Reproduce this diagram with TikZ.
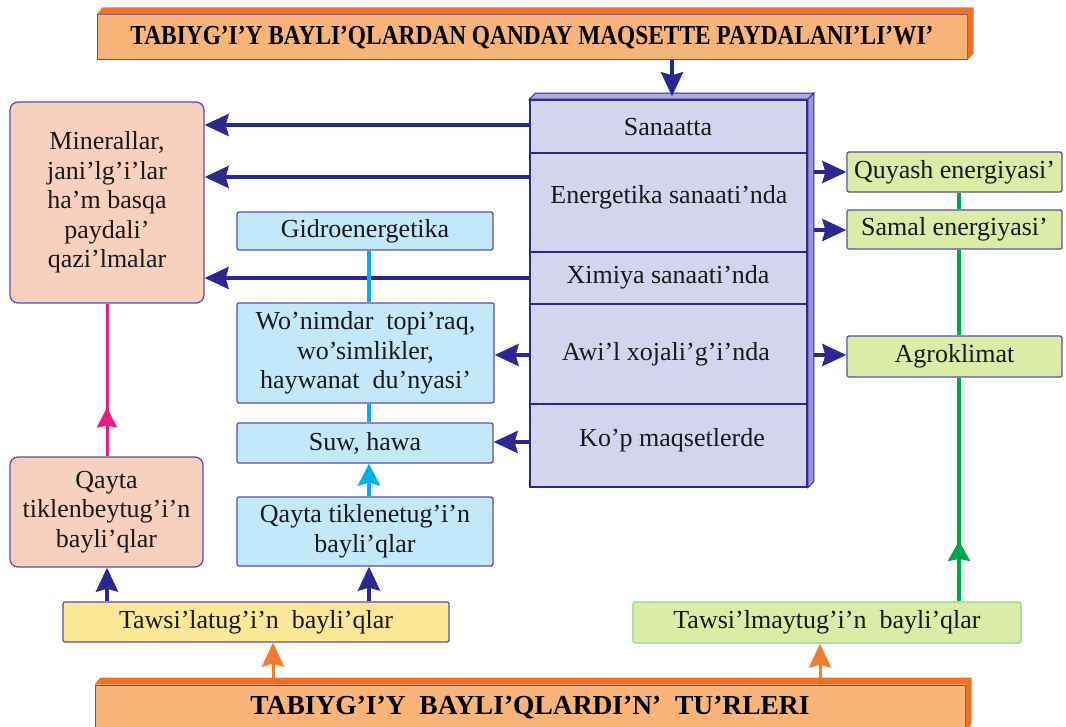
\documentclass[tikz,border=0pt]{standalone}
\usepackage{fontspec}
\setmainfont{Liberation Serif}
\usepackage{graphicx}
\usetikzlibrary{arrows.meta,decorations.markings,calc}
\definecolor{cNavy}{RGB}{45,40,145}
\definecolor{cBorder}{RGB}{95,75,170}
\definecolor{cPink}{RGB}{230,30,130}
\definecolor{cCyan}{RGB}{0,175,235}
\definecolor{cGreen}{RGB}{0,165,80}
\definecolor{cOrange}{RGB}{240,125,45}
\definecolor{cOrangeDark}{RGB}{238,115,40}
\definecolor{cOrangeFill}{RGB}{249,180,122}
\definecolor{cLav}{RGB}{212,212,238}
\definecolor{cLavTop}{RGB}{175,170,220}
\definecolor{cLavSide}{RGB}{155,150,212}
\definecolor{cPeach}{RGB}{248,208,190}
\definecolor{cBlue}{RGB}{195,232,250}
\definecolor{cYellow}{RGB}{252,232,150}
\definecolor{cLime}{RGB}{218,236,165}
\definecolor{cLimeBorder}{RGB}{150,210,140}
\begin{document}
\begin{tikzpicture}[x=1pt,y=-1pt,
  box/.style={draw=cBorder, line width=1.3pt, inner sep=0pt, align=center,
    font=\fontsize{26}{29.5}\selectfont, text=black!90, rounded corners=2pt},
  peach/.style={box, fill=cPeach, rounded corners=8pt},
  bluebox/.style={box, fill=cBlue},
  yellowbox/.style={box, fill=cYellow},
  limebox/.style={box, fill=cLime},
  intext/.style={inner sep=0pt, font=\fontsize{26}{29.5}\selectfont, text=black!90},
  na/.style={draw=cNavy, line width=4pt, -{Stealth[length=24pt,width=22pt,inset=3pt]}},
  oa/.style={draw=cOrange, line width=3pt, -{Stealth[length=24pt,width=22pt,inset=3pt]}},
  ca/.style={draw=cCyan, line width=4pt, -{Stealth[length=22pt,width=22pt,inset=3pt]}},
  cl/.style={draw=cCyan, line width=4pt},
  gl/.style={draw=cGreen, line width=4pt},
]
\useasboundingbox[fill=white] (0,0) rectangle (1066,727);

% header
\node[draw=cBorder, line width=1pt, fill=cOrangeFill, minimum width=870pt, minimum height=45pt, inner sep=0pt,
  font=\fontsize{27.5}{30}\selectfont\bfseries] (hdr) at (532,37.5)
  {\scalebox{0.85}[1]{TABIYG’I’Y BAYLI’QLARDAN QANDAY MAQSETTE PAYDALANI’LI’WI’}};
\fill[cOrangeDark] (hdr.north west) -- ++(6,-7) -- ($(hdr.north east)+(6,-7)$) -- (hdr.north east) -- cycle;
\fill[cOrangeDark] (hdr.north east) -- ++(6,-7) -- ($(hdr.south east)+(6,-7)$) -- (hdr.south east) -- cycle;

% central box
\node[draw=cNavy, line width=1.5pt, fill=cLav, minimum width=277pt, minimum height=387pt, inner sep=0pt] (cen) at (668.5,293.5) {};
\filldraw[fill=cLavTop, draw=cNavy, line width=1pt] (cen.north west) -- ++(6,-6) -- ($(cen.north east)+(6,-6)$) -- (cen.north east) -- cycle;
\filldraw[fill=cLavSide, draw=cNavy, line width=1pt] (cen.north east) -- ++(6,-6) -- ($(cen.south east)+(6,-6)$) -- (cen.south east) -- cycle;
\coordinate (l1) at (0,153);
\coordinate (l2) at (0,252);
\coordinate (l3) at (0,304);
\coordinate (l4) at (0,404);
\foreach \l in {l1,l2,l3,l4}{\draw[cNavy, line width=1.2pt] (cen.west |- \l) -- (cen.east |- \l);}
\node[intext] (s1) at (668,127) {Sanaatta};
\node[intext] (s2) at (669,197) {Energetika sanaati’nda};
\node[intext] (s3) at (668,277) {Ximiya sanaati’nda};
\node[intext] (s4) at (666,354) {Awi’l xojali’g’i’nda};
\node[intext] (s5) at (672,440) {Ko’p maqsetlerde};

% left boxes
\node[peach, minimum width=194pt, minimum height=201pt] (mineral) at (107,202.5)
  {Minerallar,\\ jani’lg’i’lar\\ ha’m basqa\\ paydali’\\ qazi’lmalar};
\node[peach, minimum width=193pt, minimum height=110pt] (qayta1) at (106.5,512)
  {Qayta\\ tiklenbeytug’i’n\\ bayli’qlar};
\node[bluebox, minimum width=256pt, minimum height=38pt] (gidro) at (365,231) {Gidroenergetika};
\node[bluebox, minimum width=257pt, minimum height=100pt] (wonim) at (365.5,353)
  {Wo’nimdar~~topi’raq,\\ wo’simlikler,\\ haywanat~~du’nyasi’};
\node[bluebox, minimum width=256pt, minimum height=40pt] (suw) at (365,443) {Suw, hawa};
\node[bluebox, minimum width=256pt, minimum height=69pt] (qayta2) at (365,531.5)
  {Qayta tiklenetug’i’n\\ bayli’qlar};
\node[yellowbox, minimum width=386pt, minimum height=40pt] (taws1) at (256,622) {Tawsi’latug’i’n~~bayli’qlar};
\node[limebox, draw=cLimeBorder, minimum width=388pt, minimum height=41pt] (taws2) at (827,622.5) {Tawsi’lmaytug’i’n~~bayli’qlar};

% right boxes
\node[limebox, minimum width=215pt, minimum height=40pt] (quyash) at (954.5,172) {Quyash energiyasi’};
\node[limebox, minimum width=215pt, minimum height=39pt] (samal) at (954.5,229.5) {Samal energiyasi’};
\node[limebox, minimum width=215pt, minimum height=41pt] (agro) at (954.5,356.5) {Agroklimat};

% bottom box
\node[draw=cBorder, line width=1pt, fill=cOrangeFill, minimum width=870pt, minimum height=46pt, inner sep=0pt,
  font=\fontsize{27.5}{30}\selectfont\bfseries] (bot) at (530,708)
  {TABIYG’I’Y~~BAYLI’QLARDI’N’~~TU’RLERI};
\fill[cOrangeDark] (bot.north west) -- ++(6,-7) -- ($(bot.north east)+(6,-7)$) -- (bot.north east) -- cycle;
\fill[cOrangeDark] (bot.north east) -- ++(6,-7) -- ($(bot.south east)+(6,-7)$) -- (bot.south east) -- cycle;

% coordinates for connector positions
\coordinate (cx) at (672,0);
\coordinate (y125) at (0,125);
\coordinate (y177) at (0,177);
\coordinate (y278) at (0,278);
\coordinate (y355) at (0,355);
\coordinate (y442) at (0,442);
\coordinate (y172) at (0,172);
\coordinate (y230) at (0,230);
\coordinate (gx) at (959,0);
\coordinate (bx1) at (107,0);
\coordinate (bx2) at (369,0);
\coordinate (ox1) at (273,0);
\coordinate (ox2) at (820,0);

% navy arrows
\draw[na] (hdr.south -| cx) -- ($(cen.north -| cx)+(0,-3)$);
\draw[na] (cen.west |- y125) -- (mineral.east |- y125);
\draw[na] (cen.west |- y177) -- (mineral.east |- y177);
\draw[na] (cen.west |- y278) -- (mineral.east |- y278);
\draw[na] (cen.west |- y355) -- (wonim.east |- y355);
\draw[na] (cen.west |- y442) -- (suw.east |- y442);
\draw[na] ($(cen.east |- y172)+(6,0)$) -- (quyash.west |- y172);
\draw[na] ($(cen.east |- y230)+(6,0)$) -- (samal.west |- y230);
\draw[na] ($(cen.east |- y355)+(6,0)$) -- (agro.west |- y355);
\draw[na] (taws1.north -| bx1) -- (qayta1.south -| bx1);
\draw[na] (taws1.north -| bx2) -- (qayta2.south -| bx2);

% cyan
\draw[cl] (gidro.south -| bx2) -- (wonim.north -| bx2);
\draw[cl] (wonim.south -| bx2) -- (suw.north -| bx2);
\draw[ca] (qayta2.north -| bx2) -- (suw.south -| bx2);

% pink
\draw[cPink, line width=3pt, postaction={decorate},
  decoration={markings, mark=at position 0.32 with {\arrow{Stealth[length=20pt,width=20pt,inset=2pt]}}}]
  (qayta1.north -| bx1) -- (mineral.south -| bx1);

% green
\draw[gl] (samal.north -| gx) -- (quyash.south -| gx);
\draw[gl] (agro.north -| gx) -- (samal.south -| gx);
\draw[gl, postaction={decorate},
  decoration={markings, mark=at position 0.27 with {\arrow{Stealth[length=20pt,width=22pt,inset=2pt]}}}]
  (taws2.north -| gx) -- (agro.south -| gx);

% orange
\draw[oa] ($(bot.north -| ox1)+(0,-7)$) -- (taws1.south -| ox1);
\draw[oa] ($(bot.north -| ox2)+(0,-7)$) -- (taws2.south -| ox2);
\end{tikzpicture}
\end{document}
